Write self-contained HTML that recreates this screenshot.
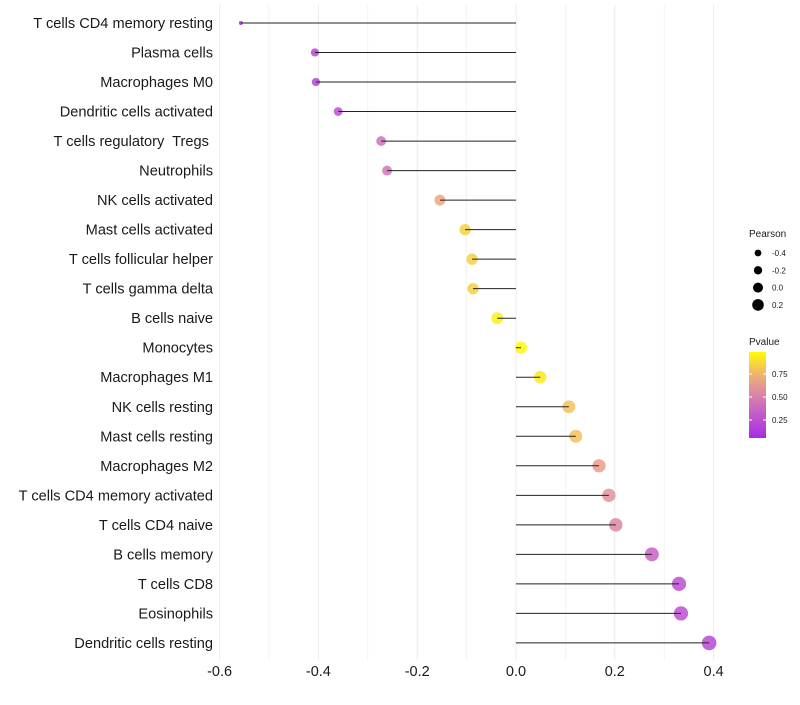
<!DOCTYPE html>
<html><head><meta charset="utf-8"><style>
body{margin:0;background:#fff;font-family:"Liberation Sans",sans-serif}
text{white-space:pre}
</style></head><body>
<svg id="chart" width="800" height="700"></svg>
<script>
const categories=["T cells CD4 memory resting","Plasma cells","Macrophages M0","Dendritic cells activated","T cells regulatory  Tregs ","Neutrophils","NK cells activated","Mast cells activated","T cells follicular helper","T cells gamma delta","B cells naive","Monocytes","Macrophages M1","NK cells resting","Mast cells resting","Macrophages M2","T cells CD4 memory activated","T cells CD4 naive","B cells memory","T cells CD8","Eosinophils","Dendritic cells resting"];
const pearson=[-0.557,-0.407,-0.405,-0.360,-0.273,-0.261,-0.154,-0.103,-0.089,-0.087,-0.038,0.010,0.049,0.107,0.121,0.168,0.188,0.202,0.275,0.330,0.334,0.391];
const pvalue=[0.06,0.2,0.2,0.25,0.42,0.45,0.7,0.85,0.85,0.85,0.95,0.98,0.93,0.8,0.8,0.65,0.6,0.55,0.35,0.25,0.25,0.22];
const xTicks=[-0.6,-0.4,-0.2,0.0,0.2,0.4];
const sizeLegend=[-0.4,-0.2,0.0,0.2];
const colorLegend=[0.25,0.5,0.75];
const NS="http://www.w3.org/2000/svg";
const svg=document.getElementById('chart');
const x=v=>516+v*494;
const y=i=>23+i*29.52;
const pmin=-0.557,pmax=0.391;
const rad=v=>2+5.3*Math.sqrt(Math.max(0,(v-pmin)/(pmax-pmin)));
const stops=[[0,[160,32,240]],[0.5,[215,128,176]],[0.75,[240,178,112]],[1,[255,255,0]]];
function col(p){for(let k=1;k<stops.length;k++){if(p<=stops[k][0]){const a=stops[k-1],b=stops[k],t=(p-a[0])/(b[0]-a[0]);const c=a[1].map((u,j)=>Math.round(u+(b[1][j]-u)*t));return `rgb(${c})`;}}return 'rgb(255,255,0)';}
function el(t,a,txt){const e=document.createElementNS(NS,t);for(const k in a)e.setAttribute(k,a[k]);if(txt!=null)e.textContent=txt;svg.appendChild(e);return e;}
for(let v=-0.6;v<=0.401;v+=0.1){const g=el('line',{x1:x(v),x2:x(v),y1:5,y2:660,stroke:'#ebebeb','stroke-width':Math.abs(Math.round(v*10))%2==0?1:0.6});

}
xTicks.forEach(v=>{const t=el('text',{x:x(v),y:676,'font-size':14.5,'text-anchor':'middle',fill:'#1a1a1a'},v.toFixed(1));

});
categories.forEach((c,i)=>{
const t=el('text',{x:213,y:y(i)+5,'font-size':14.6,'text-anchor':'end',fill:'#1a1a1a'},c);


const d=el('circle',{cx:x(pearson[i]),cy:y(i),r:rad(pearson[i]),fill:col(pvalue[i]),'fill-opacity':0.85});


const l=el('line',{x1:x(0),x2:x(pearson[i]),y1:y(i),y2:y(i),stroke:'#222','stroke-width':1});


});
let lt=el('text',{x:749,y:237,'font-size':10,fill:'#1a1a1a'},'Pearson');


sizeLegend.forEach((v,k)=>{const cy=253+k*17.3;
const c=el('circle',{cx:758,cy:cy,r:3.4+k*0.8,fill:'#000'});


const t=el('text',{x:772,y:cy+3,'font-size':8,fill:'#1a1a1a'},v.toFixed(1));

});
let ct=el('text',{x:749,y:345,'font-size':10,fill:'#1a1a1a'},'Pvalue');


const defs=el('defs',{});const lg=document.createElementNS(NS,'linearGradient');lg.setAttribute('id','g');lg.setAttribute('x1',0);lg.setAttribute('x2',0);lg.setAttribute('y1',1);lg.setAttribute('y2',0);defs.appendChild(lg);
const cby=p=>438-(p-0.054)/(0.99-0.054)*86;
for(let i=0;i<=10;i++){const p=0.054+i/10*(0.99-0.054);const s=document.createElementNS(NS,'stop');s.setAttribute('offset',i/10);s.setAttribute('stop-color',col(p));lg.appendChild(s);}
let bar=el('rect',{x:749,y:352,width:17,height:86,fill:'url(#g)'});


colorLegend.forEach(p=>{const yy=cby(p);el('line',{x1:749,x2:752,y1:yy,y2:yy,stroke:'#fff'});el('line',{x1:763,x2:766,y1:yy,y2:yy,stroke:'#fff'});
const t=el('text',{x:772,y:yy+3,'font-size':8,fill:'#1a1a1a'},p.toFixed(2));

});
</script>
</body></html>
